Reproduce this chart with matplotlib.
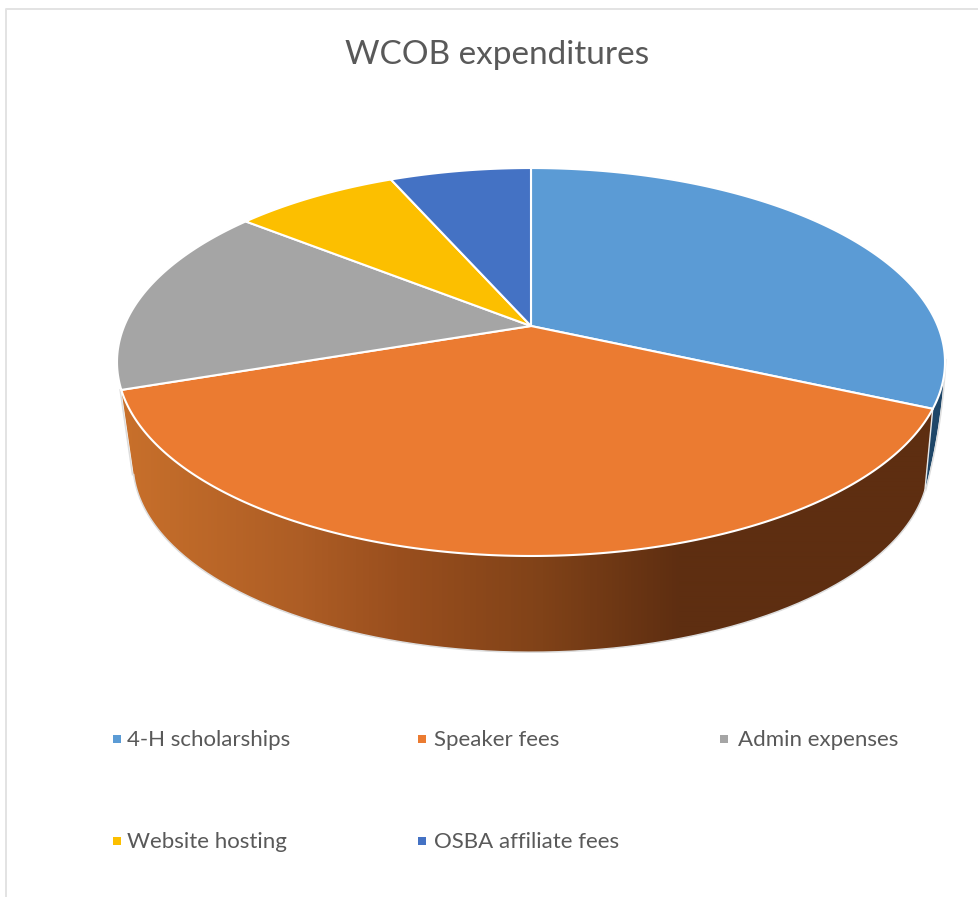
import numpy as np
import matplotlib
matplotlib.use("Agg")
import matplotlib.pyplot as plt
from matplotlib.colors import LinearSegmentedColormap
from matplotlib.patches import Polygon

title = "WCOB expenditures"
categories = ["4-H scholarships", "Speaker fees", "Admin expenses", "Website hosting", "OSBA affiliate fees"]
shares = [31.7, 38.1, 15.9, 7.7, 6.6]
colors = ["#5B9BD5", "#EB7B31", "#A5A5A5", "#FCBF00", "#4472C4"]

plt.rcParams["font.family"] = ["Lato", "DejaVu Sans"]
W, H = 979, 897
fig = plt.figure(figsize=(W / 100, H / 100), dpi=100, facecolor="white")
ax = fig.add_axes([0, 0, 1, 1])
ax.set_xlim(0, W)
ax.set_ylim(H, 0)
ax.axis("off")

# perspective projection of the pie disc
K = 0.1856


def project(theta, cy, sx=1.0, sy=1.0):
    X, Y = np.sin(theta), np.cos(theta)
    w = 1 + K * Y
    return 531 + sx * 406.8 * X / w, cy - sy * 187.3 * Y / w


def top(theta):
    return project(theta, 326)


def bottom(theta):
    return project(theta, 428, 0.9615, 0.975)


edges = np.radians(np.concatenate([[0], np.cumsum(shares)]) / np.sum(shares) * 360)
wall_start = edges[1] - np.radians(5.4)
wall_end = edges[2] + np.radians(4.6)

# frame of the chart area
ax.plot([W, 6.5, 6.5], [9, 9, H], color="#E3E3E3", lw=1.4, zorder=1)

# side wall: blue sliver at the right, with a slightly bulging outer edge
t = np.linspace(np.radians(100), edges[1], 30)
x1, y1 = top(t)
xe, ye = bottom(wall_start)
s = np.linspace(0, 1, 25)
xs = x1[0] + (xe - x1[0]) * s + 14 * s * (1 - s)
ys = y1[0] + (ye - y1[0]) * s
ax.fill(np.r_[x1, xs[::-1]], np.r_[y1, ys[::-1]], color="#1E4668", lw=0, zorder=2)
ax.plot(xs + 0.8, ys, color="#DDDDDD", lw=1.0, zorder=2)

# side wall: orange front with horizontal shading
cmap = LinearSegmentedColormap.from_list(
    "wall",
    [(0.0, "#C8702B"), (0.22, "#AD5D25"), (0.34, "#9A4F1E"), (0.52, "#804218"),
     (0.69, "#5E2E11"), (1.0, "#5E2E11")],
)
t = np.linspace(edges[1], edges[2], 260)
x1, y1 = top(t)
tb = np.linspace(wall_start, wall_end, 260)
x2, y2 = bottom(tb)
wall = Polygon(np.c_[np.r_[x1, x2[::-1]], np.r_[y1, y2[::-1]]], closed=True, transform=ax.transData,
               facecolor="none", edgecolor="none")
ax.add_patch(wall)
img = ax.imshow(np.linspace(0, 1, 810)[None, :], cmap=cmap, vmin=0, vmax=1,
                extent=(122, 932, 700, 380), aspect="auto", interpolation="bilinear", zorder=3)
img.set_clip_path(wall)
ax.set_xlim(0, W)
ax.set_ylim(H, 0)

# light outline of the wall
ax.plot(x2, y2, color="#DDDDDD", lw=1.1, zorder=4)
a = edges[2]
ax.plot([top(a)[0] - 1.2, x2[-1] - 1.2], [top(a)[1], y2[-1]], color="#DDDDDD", lw=1.1, zorder=4)
a = edges[1]
ax.plot([top(a)[0], x2[0]], [top(a)[1], y2[0]], color="#E8E8E8", lw=1.0, zorder=4)

# top face
cx, cy = 531, 326
for i, c in enumerate(colors):
    t = np.linspace(edges[i], edges[i + 1], 200)
    x, y = top(t)
    ax.fill(np.r_[cx, x], np.r_[cy, y], facecolor=c, edgecolor="white", lw=1.5, joinstyle="round", zorder=5)

# title
ax.text(497, 55, title, ha="center", va="center", fontsize=24, color="#595959", zorder=6)

# legend
marker_x = [117.5, 422, 724]
label_x = [127, 434, 738]
leg_y = [739, 841]
for i, (name, c) in enumerate(zip(categories, colors)):
    y = leg_y[i // 3]
    ax.scatter([marker_x[i % 3]], [y], marker="s", s=32, color=c, lw=0, zorder=6)
    ax.text(label_x[i % 3], y + 1.5, name, ha="left", va="center", fontsize=16, color="#595959", zorder=6)

fig.savefig("out.png", dpi=100, facecolor="white")
